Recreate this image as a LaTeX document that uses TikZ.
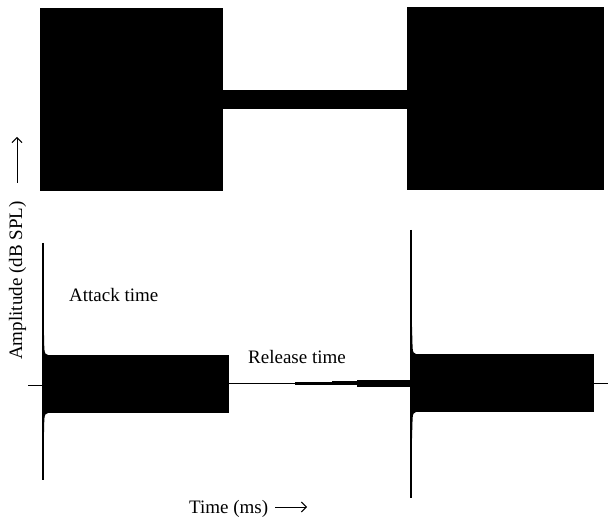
\documentclass[tikz,border=0pt]{standalone}
\usepackage{fontspec}
\setmainfont{Liberation Serif}
\usetikzlibrary{arrows.meta}
\tikzset{
  lbl/.style={inner sep=0pt, font=\fontsize{19}{23}\selectfont},
  spike/.style={line width=1.2pt},
  axarrow/.style={line width=1pt, -{Straight Barb[length=5pt,width=10pt]}},
  trace/.style={line width=0.9pt}
}
\begin{document}
\begin{tikzpicture}[x=1pt,y=-1pt]
\useasboundingbox (0,0) rectangle (608,521);
% ---- top envelope ----
\fill (40,8) rectangle (223,191);
\fill (222,90) rectangle (408,109);
\fill (407,7) rectangle (604,190);
% ---- bottom waveform ----
\draw[trace] (28,385.5) -- (44,385.5);
\draw[trace] (44,383.3) -- (608,383.3);
% left burst
\draw[spike] (43,243) -- (43,480);
\fill (42.4,327) -- (43.8,327) -- (44.3,348) .. controls (44.5,353) and (45.5,355) .. (48,355)
  -- (48,413) .. controls (45.5,413) and (44.5,415) .. (44.3,420) -- (43.8,440) -- (42.4,440) -- cycle;
\fill (44,355) rectangle (229,413);
% release taper
\fill (295,382) rectangle (332,384.6);
\fill (332,381) rectangle (357,385.4);
\fill (357,379.8) rectangle (412,386.6);
% right burst
\draw[spike] (411,230) -- (411,498);
\fill (410.3,320) -- (411.8,320) -- (412.6,348) .. controls (412.8,352) and (414,354) .. (416,354)
  -- (416,412) .. controls (414,412) and (412.8,414) .. (412.6,418) -- (411.8,445) -- (410.3,445) -- cycle;
\fill (412,354) rectangle (594,412);
% ---- labels ----
\node[lbl, anchor=base west] (attack) at (69,302) {Attack time};
\node[lbl, anchor=base west] (release) at (248,363) {Release time};
\node[lbl, anchor=base west] (timelab) at (189,513) {Time (ms)};
\coordinate (tA) at (275,507);
\coordinate (tB) at (307,507);
\draw[axarrow] (tA) -- (tB);
\node[lbl, anchor=base west, rotate=90] (amp) at (22,360) {Amplitude (dB SPL)};
\coordinate (aA) at (17,183);
\coordinate (aB) at (17,137);
\draw[axarrow] (aA) -- (aB);
\end{tikzpicture}
\end{document}
